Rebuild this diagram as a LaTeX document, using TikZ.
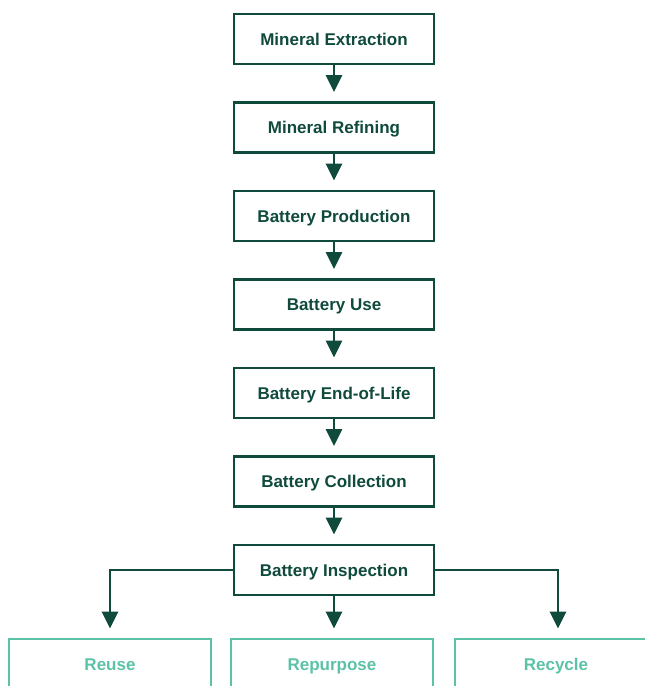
\documentclass[tikz,border=0pt]{standalone}
\usepackage{fontspec}
\setmainfont{Liberation Sans}
\usetikzlibrary{positioning,arrows.meta}
\definecolor{pine}{HTML}{0F4A3C}
\definecolor{mint}{HTML}{5CC2A7}

\begin{document}
\begin{tikzpicture}[
    x=1pt, y=1pt,
    node distance=35.6pt,
    stage/.style={draw=pine, line width=2.9pt, minimum width=200pt, minimum height=50pt,
        inner sep=0pt, text height=12pt, text depth=0pt, text=pine,
        font=\bfseries\fontsize{17}{20}\selectfont},
    outcome/.style={stage, draw=mint, text=mint, minimum width=202pt},
    flow/.style={pine, line width=2.9pt, -{Triangle[width=16pt,length=17pt]}, shorten >=9pt}
]
    \useasboundingbox (0,0) rectangle (645,-686);

    % Main chain
    \node[stage] (extract) at (334,-39) {Mineral Extraction};
    \node[stage, below=of extract] (refine) {Mineral Refining};
    \node[stage, below=of refine] (produce) {Battery Production};
    \node[stage, below=of produce] (use) {Battery Use};
    \node[stage, below=of use] (eol) {Battery End-of-Life};
    \node[stage, below=of eol] (collect) {Battery Collection};
    \node[stage, below=of collect] (inspect) {Battery Inspection};

    % Outcomes
    \node[outcome] (reuse) at (110,-664) {Reuse};
    \node[outcome] (repurpose) at (332,-664) {Repurpose};
    \node[outcome] (recycle) at (556,-664) {Recycle};

    % Arrows down the chain
    \draw[flow] (extract) -- (refine);
    \draw[flow] (refine) -- (produce);
    \draw[flow] (produce) -- (use);
    \draw[flow] (use) -- (eol);
    \draw[flow] (eol) -- (collect);
    \draw[flow] (collect) -- (inspect);

    % Branches
    \draw[flow] (inspect.west) -| (reuse.north);
    \draw[flow] (inspect.south) -- (inspect.south |- repurpose.north);
    \draw[flow] (inspect.east) -| ([xshift=2pt]recycle.north);
\end{tikzpicture}
\end{document}
